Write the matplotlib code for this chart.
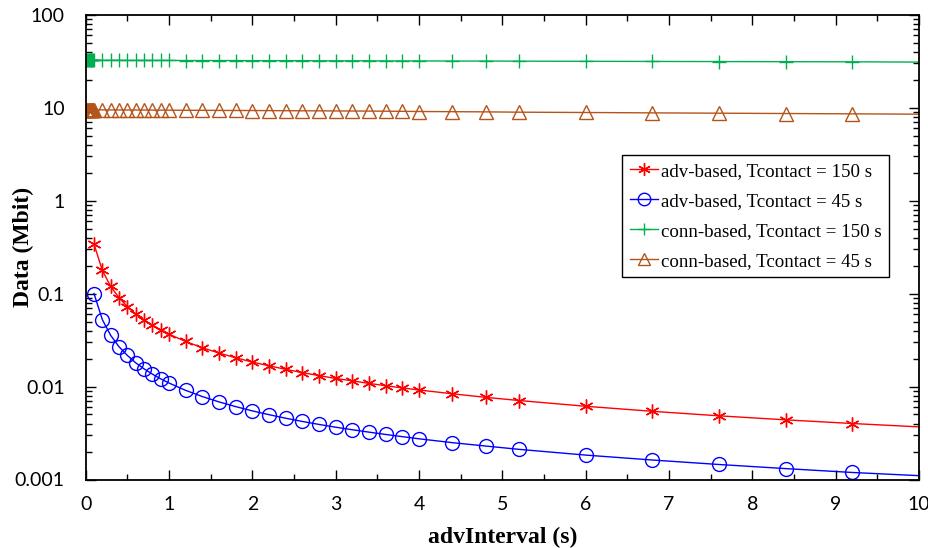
import numpy as np
import matplotlib
matplotlib.use("Agg")
import matplotlib.pyplot as plt
from matplotlib.ticker import LogLocator, MultipleLocator, FixedFormatter, FixedLocator

# ==========================================
# DATA
# ==========================================
adv_x = [0.1, 0.2, 0.3, 0.4, 0.5, 0.6, 0.7, 0.8, 0.9, 1.0,
         1.2, 1.4, 1.6, 1.8, 2.0, 2.2, 2.4, 2.6, 2.8, 3.0,
         3.2, 3.4, 3.6, 3.8, 4.0, 4.4, 4.8, 5.2, 6.0, 6.8,
         7.6, 8.4, 9.2, 10.0]

adv_150 = [0.341, 0.177, 0.1195, 0.0902, 0.0724, 0.0605, 0.0520, 0.0455, 0.0405, 0.0365,
           0.0305, 0.0261, 0.0229, 0.0204, 0.0183, 0.0167, 0.0153, 0.0141, 0.0131, 0.0122,
           0.0115, 0.0108, 0.0102, 0.00966, 0.00918, 0.00835, 0.00765, 0.00707, 0.00613, 0.00541,
           0.00484, 0.00438, 0.00400, 0.00368]

adv_45 = [0.100, 0.0524, 0.0355, 0.0268, 0.0216, 0.0180, 0.0155, 0.0136, 0.0121, 0.0109,
          0.00909, 0.00780, 0.00683, 0.00608, 0.00547, 0.00498, 0.00456, 0.00421, 0.00391, 0.00365,
          0.00343, 0.00323, 0.00305, 0.00289, 0.00274, 0.00249, 0.00229, 0.00211, 0.00183, 0.00162,
          0.00145, 0.00131, 0.00119, 0.00110]

conn_x = [0.01, 0.02, 0.03, 0.04, 0.05, 0.06, 0.07, 0.08, 0.09] + adv_x

conn_150 = [32.2, 32.2, 32.2, 32.2, 32.2, 32.2, 32.2, 32.2, 32.2,
            32.2, 32.2, 32.2, 32.2, 32.1, 32.1, 32.1, 32.1, 32.1, 32.1,
            32.0, 32.0, 32.0, 32.0, 31.9, 31.9, 31.9, 31.9, 31.8, 31.8,
            31.8, 31.8, 31.7, 31.7, 31.7, 31.6, 31.6, 31.5, 31.4, 31.3,
            31.2, 31.1, 31.0, 30.8]

conn_45 = [9.45, 9.45, 9.45, 9.45, 9.45, 9.45, 9.45, 9.45, 9.45,
           9.44, 9.43, 9.42, 9.41, 9.40, 9.40, 9.39, 9.38, 9.37, 9.36,
           9.34, 9.33, 9.31, 9.29, 9.28, 9.26, 9.24, 9.22, 9.21, 9.19,
           9.17, 9.15, 9.13, 9.10, 9.06, 9.02, 8.98, 8.91, 8.84, 8.76,
           8.69, 8.62, 8.55, 8.48]

labels = ["adv-based, Tcontact = 150 s", "adv-based, Tcontact = 45 s",
          "conn-based, Tcontact = 150 s", "conn-based, Tcontact = 45 s"]

# ==========================================
# PLOTTING
# ==========================================
fig = plt.figure(figsize=(9.29, 5.48), dpi=100)
ax = fig.add_axes([0.0922, 0.125, 0.8970, 0.8485])

# the last point only carries the line to the right edge, no marker there
no_last = list(range(len(adv_x) - 1))
no_last_c = list(range(len(conn_x) - 1))

ax.plot(adv_x, adv_150, color="#ff0000", lw=1.0, marker=(6, 2, 0), ms=10,
        mew=1.0, markevery=no_last, label=labels[0])
ax.plot(adv_x, adv_45, color="#0000ff", lw=1.0, marker="o", ms=10,
        mfc="none", mew=1.0, markevery=no_last, label=labels[1])
ax.plot(conn_x, conn_150, color="#00b050", lw=1.0, marker="+", ms=10,
        mew=1.0, markevery=no_last_c, label=labels[2])
ax.plot(conn_x, conn_45, color="#b5541a", lw=1.0, marker="^", ms=10,
        mfc="none", mew=1.0, markevery=no_last_c, label=labels[3])

ax.set_yscale("log")
ax.set_xlim(0, 10)
ax.set_ylim(0.001, 100)

ax.xaxis.set_major_locator(MultipleLocator(1))
ax.xaxis.set_minor_locator(MultipleLocator(0.5))
ax.yaxis.set_major_locator(FixedLocator([0.001, 0.01, 0.1, 1, 10, 100]))
ax.yaxis.set_major_formatter(FixedFormatter(["0.001", "0.01", "0.1", "1", "10", "100"]))
ax.yaxis.set_minor_locator(LogLocator(base=10, subs=np.arange(2, 10), numticks=20))

ax.tick_params(which="both", direction="in", top=True, right=True,
               labelsize=14, width=1.0)
ax.tick_params(which="major", length=7)
ax.tick_params(which="minor", length=4)
ax.tick_params(axis="x", pad=12)
ax.tick_params(axis="y", pad=15)
for t in ax.get_xticklabels() + ax.get_yticklabels():
    t.set_family("Lato")

for s in ax.spines.values():
    s.set_linewidth(1.3)

ax.set_xlabel("advInterval (s)", family="Liberation Serif", fontsize=17,
              fontweight="bold", labelpad=10)
ax.set_ylabel("Data (Mbit)", family="Liberation Serif", fontsize=17,
              fontweight="bold")
ax.yaxis.set_label_coords(-0.062, 0.5)

leg = ax.legend(loc="upper right", bbox_to_anchor=(0.9644, 0.698),
                prop={"family": "Liberation Serif", "size": 13.6},
                frameon=True, fancybox=False, framealpha=1, edgecolor="black",
                handlelength=1.5, handletextpad=0.15, labelspacing=0.68,
                borderpad=0.4, borderaxespad=0, markerscale=0.9)
leg.get_frame().set_linewidth(1.0)

plt.savefig("out.png", dpi=100)
